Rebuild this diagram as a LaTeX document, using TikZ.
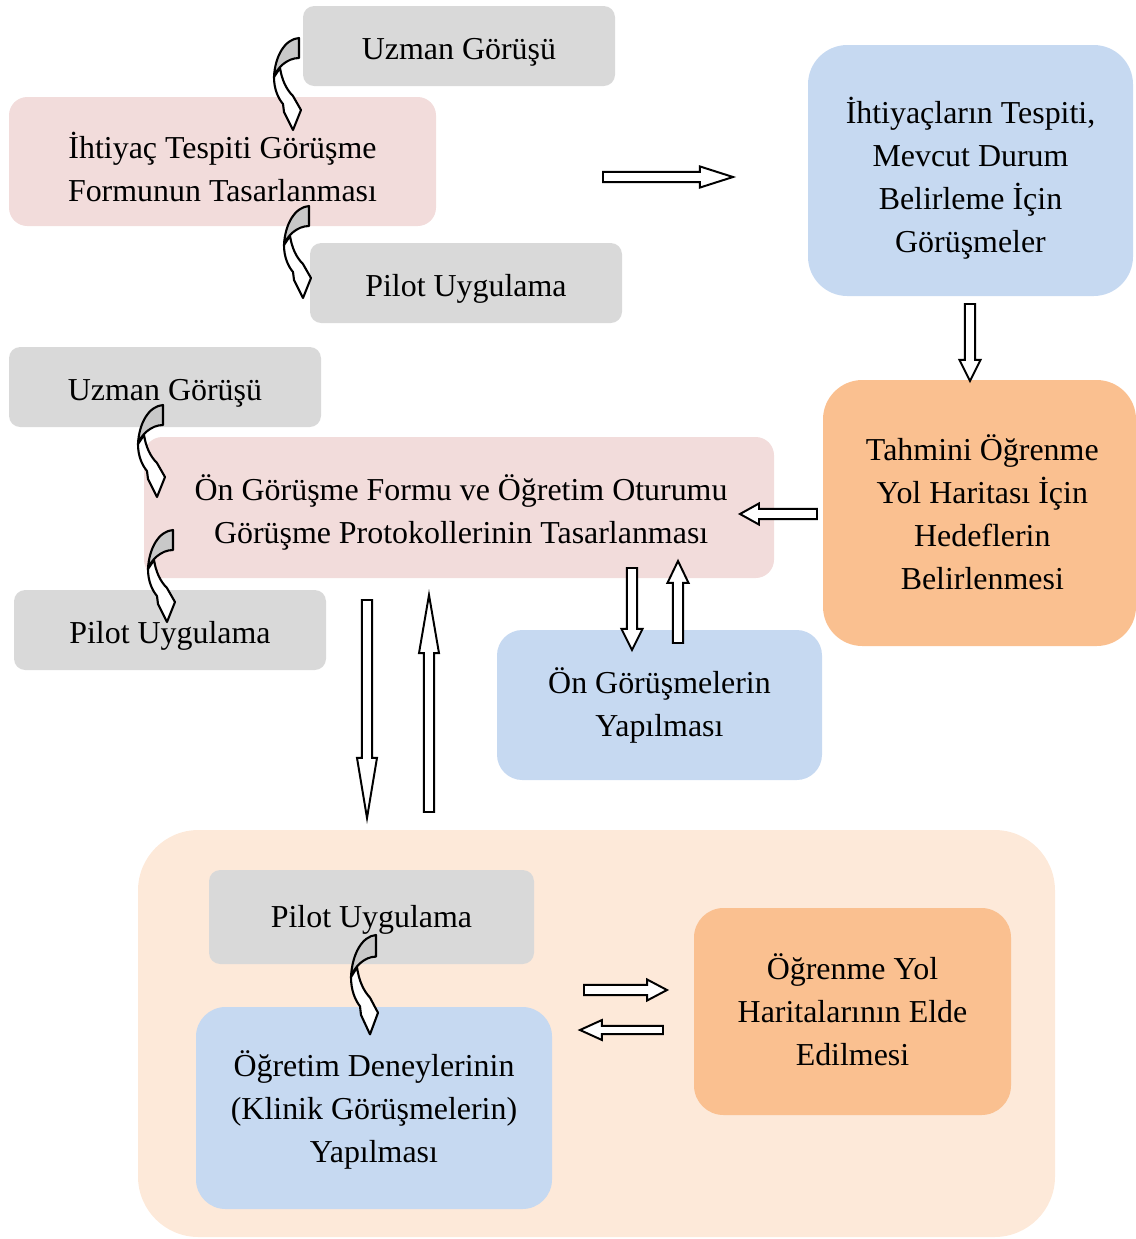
\documentclass[tikz,border=0pt]{standalone}
\usepackage{fontspec}
\setmainfont{Liberation Serif}
\usetikzlibrary{calc}

\definecolor{boxgray}{HTML}{D9D9D9}
\definecolor{boxpink}{HTML}{F2DCDB}
\definecolor{boxblue}{HTML}{C6D9F1}
\definecolor{boxorange}{HTML}{FAC090}
\definecolor{boxpeach}{HTML}{FDE9D9}
\definecolor{turngray}{HTML}{C8C8C8}

\tikzset{
  boxtext/.style={align=center, inner sep=0pt, font=\fontsize{22.7}{30.6}\selectfont},
  graybox/.style={fill=boxgray, rounded corners=8pt},
  pinkbox/.style={fill=boxpink, rounded corners=13pt},
  bluebox/.style={fill=boxblue, rounded corners=#1},
  orangebox/.style={fill=boxorange, rounded corners=#1},
  % hollow block arrow between two coordinates
  hlen/.store in=\arrowhl, hlen=15pt,
  swid/.store in=\arrowsw, swid=3.6pt,
  hwid/.store in=\arrowhw, hwid=7.5pt,
  blockarrow/.style={draw, fill=white, line width=1.4pt, line join=miter, to path={
    ($(\tikztostart)!\arrowsw!90:(\tikztotarget)$)
    -- ($($(\tikztotarget)!\arrowhl!(\tikztostart)$)!\arrowsw!-90:(\tikztostart)$)
    -- ($($(\tikztotarget)!\arrowhl!(\tikztostart)$)!\arrowhw!-90:(\tikztostart)$)
    -- (\tikztotarget)
    -- ($($(\tikztotarget)!\arrowhl!(\tikztostart)$)!\arrowhw!90:(\tikztostart)$)
    -- ($($(\tikztotarget)!\arrowhl!(\tikztostart)$)!\arrowsw!90:(\tikztostart)$)
    -- ($(\tikztostart)!\arrowsw!-90:(\tikztotarget)$)
    -- cycle}},
  % curved arrow, origin at the top right of its shaded back
  turnarrow/.pic={
    \draw[line width=1.5pt, fill=turngray, line join=round]
      (0,0) .. controls (-14,1) and (-24,18) .. (-25,39)
      .. controls (-22,30) and (-12,20) .. (0,20) -- cycle;
    \draw[line width=1.5pt, fill=white, line join=round]
      (-25,39) .. controls (-25,51) and (-21,60) .. (-16,66)
      -- (-15,74) -- (-6,92) -- (2,72) -- (-6,58)
      .. controls (-13,51) and (-17,42) .. (-19,30) -- cycle;
  }
}

\begin{document}
\begin{tikzpicture}[x=0.025cm, y=-0.025cm]
\useasboundingbox (0,0) rectangle (1136,1239);

% last stage frame
\fill[boxpeach, rounded corners=43pt] (138,830) rectangle (1055,1237);

% first stage
\path[graybox] (303,6) rectangle node[boxtext, yshift=-4.5pt] (expert1) {Uzman Görüşü} (615,86);
\path[pinkbox] (9,97) rectangle node[boxtext, yshift=-4pt] (form1) {İhtiyaç Tespiti Görüşme\\Formunun Tasarlanması} (436,226);
\path[graybox] (310,243) rectangle node[boxtext, yshift=-4.3pt] (pilot1) {Pilot Uygulama} (622,323);
\path[bluebox=28pt] (808,45) rectangle node[boxtext, yshift=-5.4pt] (needs) {İhtiyaçların Tespiti,\\Mevcut Durum\\Belirleme İçin\\Görüşmeler} (1133,296);
\path[orangebox=28pt] (823,380) rectangle node[boxtext, xshift=2pt, yshift=0.7pt] (goals) {Tahmini Öğrenme\\Yol Haritası İçin\\Hedeflerin\\Belirlenmesi} (1136,646);

% second stage
\path[graybox] (9,347) rectangle node[boxtext, yshift=-4.8pt] (expert2) {Uzman Görüşü} (321,427);
\path[pinkbox] (144,437) rectangle node[boxtext, xshift=1.5pt, yshift=-3.3pt] (form2) {Ön Görüşme Formu ve Öğretim Oturumu\\Görüşme Protokollerinin Tasarlanması} (774,578);
\path[graybox] (14,590) rectangle node[boxtext, yshift=-4.3pt] (pilot2) {Pilot Uygulama} (326,670);
\path[bluebox=18pt] (497,630) rectangle node[boxtext] (preint) {Ön Görüşmelerin\\Yapılması} (822,780);

% third stage
\path[graybox] (209,870) rectangle node[boxtext, yshift=-2.2pt] (pilot3) {Pilot Uygulama} (534,964);
\path[bluebox=21pt] (196,1007) rectangle node[boxtext, yshift=-1.4pt] (teach) {Öğretim Deneylerinin\\(Klinik Görüşmelerin)\\Yapılması} (552,1209);
\path[orangebox=21pt] (694,908) rectangle node[boxtext, yshift=1.4pt] (maps) {Öğrenme Yol\\Haritalarının Elde\\Edilmesi} (1011,1115);

% arrow ends
\coordinate (a1s) at (603,177); \coordinate (a1e) at (733,177);
\coordinate (a2s) at (970,304); \coordinate (a2e) at (970,381);
\coordinate (a3s) at (817,514); \coordinate (a3e) at (740,514);
\coordinate (a4s) at (632,568); \coordinate (a4e) at (632,650);
\coordinate (a5s) at (678,643); \coordinate (a5e) at (678,561);
\coordinate (a6s) at (367,600); \coordinate (a6e) at (367,818);
\coordinate (a7s) at (429,812); \coordinate (a7e) at (429,595);
\coordinate (a8s) at (584,990); \coordinate (a8e) at (667,990);
\coordinate (a9s) at (663,1030); \coordinate (a9e) at (580,1030);

\draw[blockarrow, hlen=23.5pt] (a1s) to (a1e);
\draw[blockarrow] (a2s) to (a2e);
\draw[blockarrow, hlen=13.5pt] (a3s) to (a3e);
\draw[blockarrow] (a4s) to (a4e);
\draw[blockarrow, hlen=15.6pt] (a5s) to (a5e);
\draw[blockarrow, hlen=42.7pt, hwid=7.1pt] (a6s) to (a6e);
\draw[blockarrow, hlen=41.3pt, hwid=7.1pt] (a7s) to (a7e);
\draw[blockarrow, hlen=14.2pt] (a8s) to (a8e);
\draw[blockarrow, hlen=15.6pt, swid=2.9pt, hwid=7.1pt] (a9s) to (a9e);

% curved arrows
\pic (turn1) at (299,38) {turnarrow};
\pic (turn2) at (309,206) {turnarrow};
\pic (turn3) at (163,405) {turnarrow};
\pic (turn4) at (173,530) {turnarrow};
\pic[yscale=1.08] (turn5) at (376,935) {turnarrow};
\end{tikzpicture}
\end{document}
